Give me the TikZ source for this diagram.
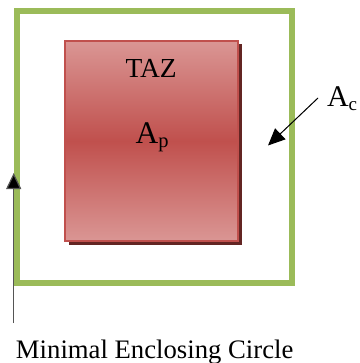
\documentclass[tikz,border=0pt]{standalone}
\usepackage{fontspec}
\setmainfont{Liberation Serif}
\usetikzlibrary{arrows.meta,shadows}
\definecolor{grn}{HTML}{9BBB59}
\definecolor{redmid}{HTML}{C0504D}
\definecolor{redlight}{HTML}{DA9694}
\definecolor{redshadow}{HTML}{632523}
\definecolor{redborder}{HTML}{C0504D}
\definecolor{arrowgray}{HTML}{555555}
\tikzset{
  enclosing/.style={draw=grn, line width=6pt, minimum width=275pt, minimum height=272pt, inner sep=0pt},
  tazbox/.style={draw=redborder, line width=2pt, minimum width=173pt, minimum height=200pt, inner sep=0pt,
    top color=redlight, bottom color=redlight, middle color=redmid,
    drop shadow={shadow xshift=3.5pt, shadow yshift=-3.5pt, fill=redshadow, opacity=1}},
  lbl/.style={anchor=base west, inner sep=0pt, outer sep=0pt, text=black},
  bigarrow/.style={-{Triangle[length=17pt,width=15pt]}, line width=1pt}
}
\begin{document}
\begin{tikzpicture}[x=1pt,y=-1pt]
\useasboundingbox (0,0) rectangle (359,363);
\node[enclosing] (mec) at (154.5,147) {};
\node[tazbox] (taz) at (151.5,141) {};
\node[lbl, font=\fontsize{27.5}{30}\selectfont] (tazname) at (125.5,78) {TAZ};
\node[lbl, font=\fontsize{31.5}{34}\selectfont] (ap) at (135.5,144) {A{\fontsize{20.5}{20}\selectfont\raisebox{-3.6pt}{p}}};
\node[lbl, font=\fontsize{30}{34}\selectfont] (ac) at (327,107) {A{\fontsize{19}{20}\selectfont\raisebox{-3.7pt}{c}}};
\node[lbl, font=\fontsize{26.7}{30}\selectfont] (mectext) at (16,358) {Minimal Enclosing Circle};
\coordinate (acstart) at (318,98);
\coordinate (actip) at (268,145.5);
\coordinate (mecstart) at (13.7,323);
\coordinate (mectip) at (13.7,173);
\draw[bigarrow, draw=black, fill=black] (acstart) -- (actip);
\draw[bigarrow, draw=arrowgray, line width=1.2pt, -{Triangle[length=16pt,width=15pt,fill=black]}] (mecstart) -- (mectip);
\end{tikzpicture}
\end{document}
